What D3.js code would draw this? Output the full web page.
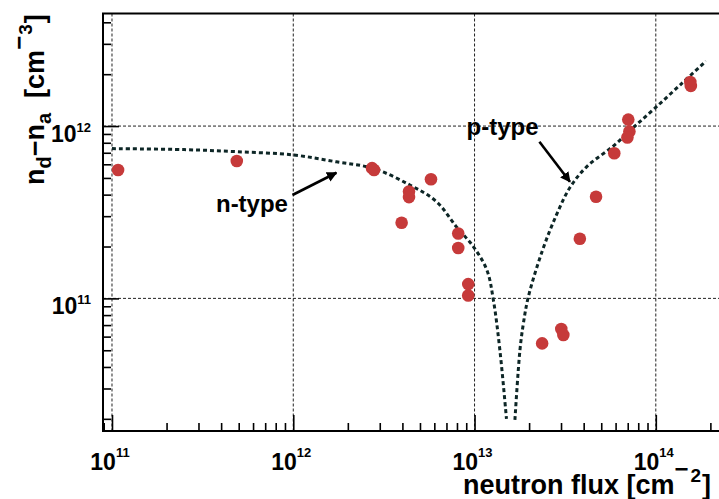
<!DOCTYPE html>
<html>
<head>
<meta charset="utf-8">
<script src="https://cdn.jsdelivr.net/npm/d3@7"></script>
<style>
  body { margin: 0; background: #fff; }
  text { font-family: "Liberation Sans", Arial, Helvetica, sans-serif; font-weight: bold; fill: #000; white-space: pre; }
</style>
</head>
<body>
<script>
// measured points
var fluxData = [1.08e11, 4.88e11, 2.72e12, 2.79e12, 4.35e12, 4.35e12, 5.75e12, 3.96e12, 8.13e12, 8.13e12,
  9.23e12, 9.23e12, 2.36e13, 3.01e13, 3.09e13, 3.81e13, 4.68e13, 5.9e13, 7.05e13, 7.15e13, 6.97e13, 1.55e14, 1.56e14]
var neffData = [5.56e11, 6.27e11, 5.7e11, 5.56e11, 4.17e11, 3.87e11, 4.91e11, 2.75e11, 2.38e11, 1.96e11,
  1.21e11, 1.04e11, 5.48e10, 6.64e10, 6.13e10, 2.22e11, 3.89e11, 6.95e11, 1.09e12, 9.29e11, 8.58e11, 1.8e12, 1.71e12]

// fit curve (n-type branch, then p-type branch)
var nTypeFlux = [1e11, 2.5e11, 4.9e11, 1e12, 1.73e12, 2.76e12, 4.4e12, 6.17e12, 7.95e12, 9.84e12, 1.17e13, 1.27e13, 1.38e13, 1.5e13]
var nTypeNeff = [7.4e11, 7.3e11, 7.1e11, 6.8e11, 6.2e11, 5.68e11, 4.55e11, 3.64e11, 2.6e11, 2.0e11, 1.46e11, 9.8e10, 5.0e10, 2.0e10]
var pTypeFlux = [1.67e13, 1.78e13, 1.86e13, 1.98e13, 2.37e13, 2.83e13, 3.36e13, 4.15e13, 5.82e13, 7.5e13, 9.89e13, 1.36e14, 1.89e14]
var pTypeNeff = [1.97e10, 5.0e10, 7.16e10, 1.02e11, 1.9e11, 3.05e11, 4.4e11, 5.8e11, 7.65e11, 9.78e11, 1.27e12, 1.73e12, 2.38e12]

var xMajor = [1e11, 1e12, 1e13, 1e14]
var xLabels = ["11", "12", "13", "14"]
var yMajor = [1e11, 1e12]
var yLabels = ["11", "12"]

// annotations, in data units: [text x, text y, arrow tail x, tail y, head x, head y]
var nTypeNote = [9.35e11, 3.17e11, 9.9e11, 3.98e11, 1.73e12, 5.36e11]
var pTypeNote = [9.04e12, 8.93e11, 2.28e13, 8.1e11, 3.36e13, 4.75e11]

var W = 719, H = 499
var pLeft = 103, pRight = 720, pTop = 13.5, pBottom = 431

var svg = d3.select("body").append("svg").attr("width", W).attr("height", H)

var x = d3.scaleLog().domain([8.92e10, 2.26e14]).range([pLeft, pRight])
var y = d3.scaleLog().domain([1.7e10, 4.5e12]).range([pBottom, pTop])

function minors(lo, hi) {
  var out = []
  for (var e = Math.floor(Math.log10(lo)); e <= Math.ceil(Math.log10(hi)); e++) {
    for (var m = 2; m <= 9; m++) {
      var v = m * Math.pow(10, e)
      if (v > lo && v < hi) out.push(v)
    }
  }
  return out
}

// grid
var grid = svg.append("g").attr("stroke", "#222").attr("stroke-width", 1).attr("stroke-dasharray", "3,2")
grid.selectAll(".gx").data(xMajor).enter().append("line")
  .attr("x1", function(d){ return x(d) }).attr("x2", function(d){ return x(d) })
  .attr("y1", pTop).attr("y2", pBottom)
grid.selectAll(".gy").data(yMajor).enter().append("line")
  .attr("y1", function(d){ return y(d) }).attr("y2", function(d){ return y(d) })
  .attr("x1", pLeft).attr("x2", pRight)

// ticks
function tickAxis(axis, vals, size, tr) {
  var g = svg.append("g").attr("transform", tr)
  g.call(axis.tickValues(vals).tickSize(size).tickSizeOuter(0).tickFormat(""))
  g.select(".domain").remove()
  g.selectAll("line").attr("stroke", "#000").attr("stroke-width", 1.6)
}
var xDom = x.domain(), yDom = y.domain()
tickAxis(d3.axisBottom(x), minors(xDom[0], xDom[1]), -8, "translate(0," + pBottom + ")")
tickAxis(d3.axisBottom(x), xMajor, -16, "translate(0," + pBottom + ")")
tickAxis(d3.axisLeft(y), minors(yDom[0], yDom[1]), -8, "translate(" + pLeft + ",0)")
tickAxis(d3.axisLeft(y), yMajor, -16, "translate(" + pLeft + ",0)")

// frame
svg.append("rect").attr("x", pLeft).attr("y", pTop).attr("width", pRight - pLeft + 4).attr("height", pBottom - pTop)
  .attr("fill", "none").attr("stroke", "#000").attr("stroke-width", 2)

// tick labels
xMajor.forEach(function(v, i) {
  var t = svg.append("text").attr("x", x(v) - 2).attr("y", 470).attr("text-anchor", "middle").attr("font-size", 23)
  t.append("tspan").text("10")
  t.append("tspan").attr("dy", -13).attr("font-size", 13).text(xLabels[i])
})
yMajor.forEach(function(v, i) {
  var t = svg.append("text").attr("x", 91).attr("y", y(v) + 15.5).attr("text-anchor", "end").attr("font-size", 23)
  t.append("tspan").text("10")
  t.append("tspan").attr("dy", -10).attr("font-size", 13).text(yLabels[i])
})

// axis titles
var xt = svg.append("text").attr("x", 463).attr("y", 494).attr("font-size", 27)
xt.append("tspan").text("neutron flux [cm")
xt.append("tspan").attr("dy", -17).attr("font-size", 24).text("\u2212")
xt.append("tspan").attr("dx", 2).attr("dy", 5).attr("font-size", 19).text("2")
xt.append("tspan").attr("dx", 1).attr("dy", 12).text("]")

var yt = svg.append("text").attr("transform", "translate(44,185) rotate(-90)").attr("font-size", 27)
yt.append("tspan").text("n")
yt.append("tspan").attr("dy", 7).attr("font-size", 20).text("d")
yt.append("tspan").attr("dy", -7).text("\u2212n")
yt.append("tspan").attr("dy", 7).attr("font-size", 20).text("a")
yt.append("tspan").attr("dy", -7).text("  [cm")
yt.append("tspan").attr("dy", -17).attr("font-size", 24).text("\u2212")
yt.append("tspan").attr("dx", 1).attr("dy", 5).attr("font-size", 19).text("3")
yt.append("tspan").attr("dx", 1).attr("dy", 12).text("]")

// fit curve
var line = d3.line()
  .x(function(d){ return x(d[0]) })
  .y(function(d){ return y(d[1]) })
  .curve(d3.curveCatmullRom.alpha(0.5))
;[[nTypeFlux, nTypeNeff], [pTypeFlux, pTypeNeff]].forEach(function(b) {
  svg.append("path").datum(d3.zip(b[0], b[1])).attr("d", line)
    .attr("fill", "none").attr("stroke", "#0d2626").attr("stroke-width", 3).attr("stroke-dasharray", "4,3")
})

// data points
svg.selectAll(".pt").data(d3.zip(fluxData, neffData)).enter().append("circle")
  .attr("class", "pt")
  .attr("cx", function(d){ return x(d[0]) })
  .attr("cy", function(d){ return y(d[1]) })
  .attr("r", 6.3)
  .attr("fill", "#c63a3a")

// annotations
svg.append("defs").append("marker").attr("id", "ah").attr("viewBox", "0 0 10 10")
  .attr("refX", 9).attr("refY", 5).attr("markerWidth", 4).attr("markerHeight", 4).attr("orient", "auto")
  .append("path").attr("d", "M0,0L10,5L0,10z").attr("fill", "#000")
;[[nTypeNote, "n-type", "end"], [pTypeNote, "p-type", "start"]].forEach(function(a) {
  var n = a[0]
  svg.append("text").attr("x", x(n[0])).attr("y", y(n[1])).attr("text-anchor", a[2]).attr("font-size", 24).text(a[1])
  svg.append("line").attr("x1", x(n[2])).attr("y1", y(n[3])).attr("x2", x(n[4])).attr("y2", y(n[5]))
    .attr("stroke", "#000").attr("stroke-width", 2.6).attr("marker-end", "url(#ah)")
})
</script>
</body>
</html>
